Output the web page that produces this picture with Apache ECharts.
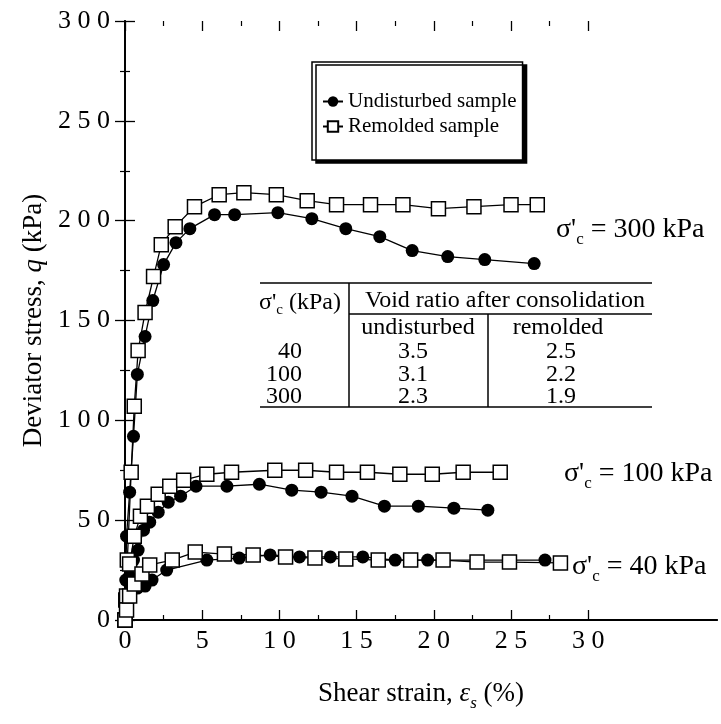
<!DOCTYPE html>
<html>
<head>
<meta charset="utf-8">
<script src="https://cdn.jsdelivr.net/npm/echarts@6/dist/echarts.min.js"></script>
<style>
  html, body { margin: 0; padding: 0; background: #fff; }
  #chart { width: 721px; height: 724px; }
</style>
</head>
<body>
<div id="chart"></div>
<script>
// shear strain (%) , deviator stress (kPa)
var und300 = [[0,0],[0.05,20],[0.1,42],[0.3,64],[0.55,92],[0.8,123],[1.3,142],[1.8,160],[2.5,178],[3.3,189],[4.2,196],[5.8,203],[7.1,203],[9.9,204],[12.1,201],[14.3,196],[16.5,192],[18.6,185],[20.9,182],[23.3,180.5],[26.5,178.5]];
var rem300 = [[0,0],[0.05,10],[0.15,30],[0.4,74],[0.6,107],[0.85,135],[1.3,154],[1.85,172],[2.35,188],[3.25,197],[4.5,207],[6.1,213],[7.7,214],[9.8,213],[11.8,210],[13.7,208],[15.9,208],[18.0,208],[20.3,206],[22.6,207],[25.0,208],[26.7,208]];
var und100 = [[0,0],[0.1,10],[0.3,22],[0.55,30],[0.85,35],[1.2,45],[1.6,49],[2.15,54],[2.8,59],[3.6,62],[4.6,67],[6.6,67],[8.7,68],[10.8,65],[12.7,64],[14.7,62],[16.8,57],[19.0,57],[21.3,56],[23.5,55]];
var rem100 = [[0,0],[0.1,12],[0.3,28],[0.6,42],[1.0,52],[1.45,57],[2.15,63],[2.9,67],[3.8,70],[5.3,73],[6.9,74],[9.7,75],[11.7,75],[13.7,74],[15.7,74],[17.8,73],[19.9,73],[21.9,74],[24.3,74]];
var und40 = [[0,0],[0.1,8],[0.3,14],[0.8,16],[1.3,17],[1.75,20],[2.7,25],[5.3,30],[7.4,31],[9.4,32.6],[11.3,31.6],[13.3,31.6],[15.4,31.6],[17.5,30],[19.6,30],[27.2,30]];
var rem40 = [[0,0],[0.1,5],[0.3,12],[0.6,18],[1.1,23],[1.6,27.6],[3.06,30],[4.55,34],[6.44,33],[8.3,32.6],[10.4,31.6],[12.3,31],[14.3,30.6],[16.4,30],[18.5,30],[20.6,30],[22.8,29],[24.9,29],[28.2,28.6]];

// void ratio table
var tableStress = ['40', '100', '300'];
var voidUndisturbed = ['3.5', '3.1', '2.3'];
var voidRemolded = ['2.5', '2.2', '1.9'];

var FONT = 'Liberation Serif';
var XMAX = 38.34;   // frame edge, the scan is cut past 30
var spaced = function (v) { return String(v).split('').join(' '); };

var chart = echarts.init(document.getElementById('chart'));

var undStyle = {
  type: 'line', name: 'Undisturbed sample', symbol: 'circle', symbolSize: 13,
  itemStyle: { color: '#000' }, lineStyle: { color: '#000', width: 1.3 }, z: 3
};
var remStyle = {
  type: 'line', name: 'Remolded sample', symbol: 'rect', symbolSize: 14,
  itemStyle: { color: '#fff', borderColor: '#000', borderWidth: 1.5 },
  lineStyle: { color: '#000', width: 1.3 }, z: 4
};
function mk(base, data) { return Object.assign({ data: data }, base); }

var sigmaRich = {
  a: { fontFamily: FONT, fontSize: 28, lineHeight: 36, verticalAlign: 'middle', color: '#000' },
  sub: { fontFamily: FONT, fontSize: 17, lineHeight: 36, verticalAlign: 'bottom', color: '#000' }
};
var tRich = {
  a: { fontFamily: FONT, fontSize: 24, lineHeight: 30, verticalAlign: 'middle', color: '#000' },
  sub: { fontFamily: FONT, fontSize: 15, lineHeight: 30, verticalAlign: 'bottom', color: '#000' }
};

var graphic = [];
function line(x1, y1, x2, y2) {
  graphic.push({ type: 'line', shape: { x1: x1, y1: y1, x2: x2, y2: y2 }, style: { stroke: '#000', lineWidth: 1.5 } });
}
function txt(x, y, s, align) {
  graphic.push({ type: 'text', x: x, y: y, style: { text: s, fontFamily: FONT, fontSize: 24, align: align || 'center', verticalAlign: 'middle', fill: '#000' } });
}
// curve annotations
graphic.push({ type: 'text', x: 556, y: 230, style: { text: "{a|σ'}{sub|c}{a| = 300 kPa}", rich: sigmaRich, verticalAlign: 'middle' } });
graphic.push({ type: 'text', x: 564, y: 474, style: { text: "{a|σ'}{sub|c}{a| = 100 kPa}", rich: sigmaRich, verticalAlign: 'middle' } });
graphic.push({ type: 'text', x: 572, y: 567, style: { text: "{a|σ'}{sub|c}{a| = 40 kPa}", rich: sigmaRich, verticalAlign: 'middle' } });

// table
line(260, 283, 652, 283);
line(349, 314, 652, 314);
line(260, 407, 652, 407);
line(349, 283, 349, 407);
line(488, 314, 488, 407);
graphic.push({ type: 'text', x: 300, y: 303, style: { text: "{a|σ'}{sub|c}{a| (kPa)}", rich: tRich, align: 'center', verticalAlign: 'middle' } });
txt(505, 301, 'Void ratio after consolidation');
txt(418, 328, 'undisturbed');
txt(558, 328, 'remolded');
var rowY = [352, 375, 397];
for (var i = 0; i < tableStress.length; i++) {
  txt(302, rowY[i], tableStress[i], 'right');
  txt(413, rowY[i], voidUndisturbed[i]);
  txt(561, rowY[i], voidRemolded[i]);
}

var lineOnly = { show: true, lineStyle: { color: '#000', width: 1.8 } };
var tickIn = { show: true, inside: true, length: 10, lineStyle: { color: '#000', width: 1.3 } };
var minorIn = { show: true, splitNumber: 2, length: 5, lineStyle: { color: '#000', width: 1.2 } };

var option = {
  animation: false,
  backgroundColor: '#fff',
  grid: [
    { left: 125, right: 4, top: 21, bottom: 104 },
    // tick grid, same scale, stops at 30 %
    { left: 125, right: 721 - 125 - 592 * 30 / XMAX, top: 21, bottom: 104 }
  ],
  legend: {
    orient: 'vertical', left: 312, top: 62,
    padding: [29, 6, 23, 10], itemGap: 4, itemWidth: 20, itemHeight: 13,
    backgroundColor: '#fff', borderColor: '#000', borderWidth: 1.5,
    shadowColor: '#000', shadowBlur: 0, shadowOffsetX: 4, shadowOffsetY: 3,
    textStyle: { fontFamily: FONT, fontSize: 21, color: '#000' },
    data: ['Undisturbed sample', 'Remolded sample']
  },
  xAxis: [
    {
      type: 'value', gridIndex: 0, min: 0, max: XMAX, position: 'bottom',
      name: '{a|Shear strain, }{i|ε}{s|s}{a| (%)}', nameLocation: 'middle', nameGap: 56,
      nameTextStyle: {
        rich: {
          a: { fontFamily: FONT, fontSize: 27, lineHeight: 36, verticalAlign: 'middle', color: '#000' },
          i: { fontFamily: FONT, fontSize: 27, fontStyle: 'italic', lineHeight: 36, verticalAlign: 'middle', color: '#000' },
          s: { fontFamily: FONT, fontSize: 17, fontStyle: 'italic', lineHeight: 36, verticalAlign: 'bottom', color: '#000' }
        }
      },
      axisLine: lineOnly, axisTick: { show: false }, axisLabel: { show: false }, splitLine: { show: false }
    },
    {
      type: 'value', gridIndex: 0, min: 0, max: XMAX, position: 'top',
      axisLine: lineOnly, axisTick: { show: false }, axisLabel: { show: false }, splitLine: { show: false }
    },
    {
      type: 'value', gridIndex: 1, min: 0, max: 30, interval: 5, position: 'bottom',
      axisLine: { show: false }, axisTick: tickIn, minorTick: minorIn, splitLine: { show: false },
      axisLabel: { fontFamily: FONT, fontSize: 26, color: '#000', margin: 8, formatter: spaced }
    },
    {
      type: 'value', gridIndex: 1, min: 0, max: 30, interval: 5, position: 'top',
      axisLine: { show: false }, axisTick: tickIn, minorTick: minorIn, splitLine: { show: false },
      axisLabel: { show: false }
    }
  ],
  yAxis: [
    {
      type: 'value', gridIndex: 0, min: 0, max: 300, interval: 50, position: 'left',
      name: '{a|Deviator stress, }{i|q}{a| (kPa)}', nameLocation: 'middle', nameGap: 78,
      nameTextStyle: {
        rich: {
          a: { fontFamily: FONT, fontSize: 27, color: '#000' },
          i: { fontFamily: FONT, fontSize: 27, fontStyle: 'italic', color: '#000' }
        }
      },
      axisLine: lineOnly, axisTick: tickIn, minorTick: minorIn, splitLine: { show: false },
      axisLabel: { fontFamily: FONT, fontSize: 26, color: '#000', margin: 15, formatter: spaced }
    },
    {
      type: 'value', gridIndex: 0, min: 0, max: 300, interval: 50, position: 'right',
      axisLine: lineOnly, axisTick: tickIn, minorTick: minorIn, splitLine: { show: false },
      axisLabel: { show: false }
    },
    { type: 'value', gridIndex: 1, min: 0, max: 300, show: false }
  ],
  graphic: graphic,
  series: [
    mk(undStyle, und300), mk(remStyle, rem300),
    mk(undStyle, und100), mk(remStyle, rem100),
    mk(undStyle, und40), mk(remStyle, rem40)
  ]
};
chart.setOption(option);
</script>
</body>
</html>
